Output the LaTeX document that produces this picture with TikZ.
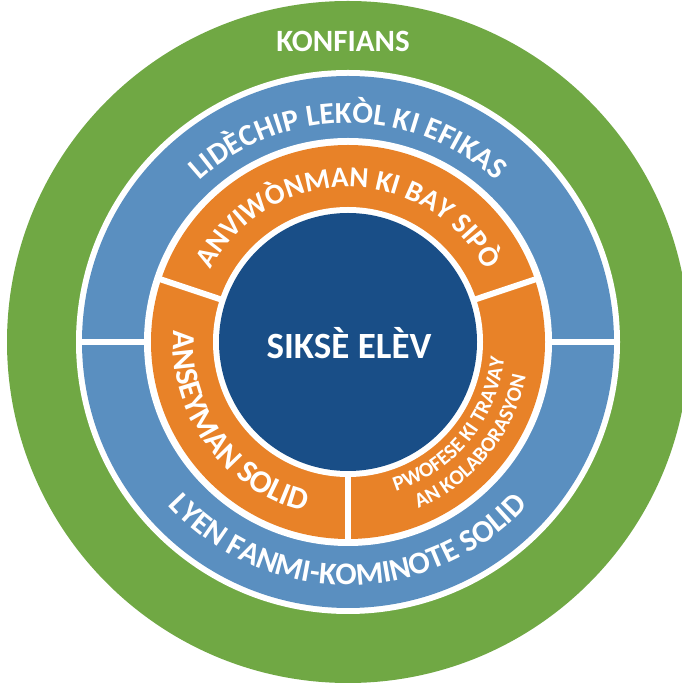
\documentclass[tikz,border=0pt]{standalone}
\usepackage{fontspec}
\setmainfont{Carlito}
\usetikzlibrary{decorations.text}
\definecolor{cgreen}{HTML}{70A844}
\definecolor{cblue}{HTML}{5A8FC0}
\definecolor{corange}{HTML}{E88228}
\definecolor{cdark}{HTML}{194E87}
\tikzset{
  divider/.style={draw=white, line width=6pt},
  bigtext/.style={text=white, font=\bfseries\fontsize{31}{31}\selectfont, anchor=base},
}
\begin{document}
\begin{tikzpicture}[x=1pt,y=1pt]
\useasboundingbox (0,0) rectangle (682,688);
\clip (0,0) rectangle (682,688);
\fill[white] (0,0) rectangle (682,688);
\coordinate (C) at (348,346);
% rings
\fill[cgreen] (C) circle (341);
\fill[white] (C) circle (272);
\fill[cblue] (C) circle (266);
\fill[white] (C) circle (204);
\fill[corange] (C) circle (197);
\fill[white] (C) circle (135);
\fill[cdark] (C) circle (129);
% blue dividers
\draw[divider] ([shift={(180:200)}]C) -- ([shift={(180:270)}]C);
\draw[divider] ([shift={(0:200)}]C) -- ([shift={(0:270)}]C);
% orange dividers
\draw[divider] ([shift={(18.5:131)}]C) -- ([shift={(18.5:201)}]C);
\draw[divider] ([shift={(161.5:131)}]C) -- ([shift={(161.5:201)}]C);
\draw[divider] ([shift={(270:131)}]C) -- ([shift={(270:201)}]C);
% straight texts
\node[bigtext] (konfians) at (343,636) {KONFIANS};
\node[bigtext, font=\bfseries\fontsize{37}{37}\selectfont] (sikse) at (349,329) {SIKSÈ ELÈV};
% curved texts
\path[decorate, decoration={text along path, text align=center, text color=white,
  text={|\bfseries\fontsize{30.5}{30.5}\selectfont|LIDÈCHIP LEKÒL KI EFIKAS}}]
  ([shift={(172:219)}]C) arc[start angle=172, end angle=8, radius=219];
\path[decorate, decoration={text along path, text align=center, text color=white,
  text={|\bfseries\fontsize{31.5}{31.5}\selectfont|LYEN FANMI-KOMINOTE SOLID}}]
  ([shift={(195:243)}]C) arc[start angle=195, end angle=345, radius=243];
\path[decorate, decoration={text along path, text align=center, text color=white,
  text={|\bfseries\fontsize{29}{29}\selectfont|ANVIWÒNMAN KI BAY SIPÒ}}]
  ([shift={(175:155)}]C) arc[start angle=175, end angle=5, radius=155];
\path[decorate, decoration={text along path, text align=center, text color=white,
  text={|\bfseries\fontsize{32}{32}\selectfont|ANSEYMAN SOLID}}]
  ([shift={(158:175)}]C) arc[start angle=158, end angle=274, radius=175];
\path[decorate, decoration={text along path, text align=center, text color=white,
  text={|\bfseries\fontsize{21}{21}\selectfont|PWOFESE KI TRAVAY}}]
  ([shift={(-95:157)}]C) arc[start angle=-95, end angle=17, radius=157];
\path[decorate, decoration={text along path, text align=center, text color=white,
  text={|\bfseries\fontsize{21}{21}\selectfont|AN KOLABORASYON}}]
  ([shift={(-95:181)}]C) arc[start angle=-95, end angle=17, radius=181];
\end{tikzpicture}
\end{document}
